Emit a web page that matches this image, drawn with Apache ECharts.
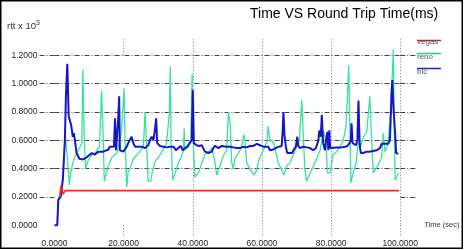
<!DOCTYPE html>
<html><head><meta charset="utf-8">
<script src="https://cdn.jsdelivr.net/npm/echarts@6/dist/echarts.min.js"></script>
<style>html,body{margin:0;padding:0;background:#fff}#c{width:464px;height:250px}</style>
</head><body><div id="c"></div>
<script>
const chartTitle = 'Time VS Round Trip Time(ms)';
const xAxisName = 'Time (sec)';
const seriesNames = ['vegas', 'reno', 'bic'];
const xTicks = [0, 20, 40, 60, 80, 100];
const yTicks = [0, 0.2, 0.4, 0.6, 0.8, 1.0, 1.2];

const vegasTime = [1.6, 1.9, 2.5, 3.1, 99.6];
const vegasRtt  = [0.20, 0.28, 0.22, 0.245, 0.245];

const bicTime = [0,0.8,1.1,1.8,2.4,3.0,3.3,3.7,4.1,4.5,4.8,5.3,5.6,6.0,6.4,7.2,8.3,9.3,10.8,11.7,12.7,14.1,15.6,16.0,17.2,17.5,17.8,18.4,18.7,18.9,19.9,20.9,21.3,22.3,22.8,23.3,25.2,26.2,27.1,27.6,28.1,28.6,29.1,29.4,29.7,30.5,32.4,33.4,34.4,35.1,35.8,36.5,37.1,37.7,38.4,39.0,39.7,39.8,40.0,40.3,41.1,41.9,42.6,43.0,43.5,44.5,45.5,45.9,46.4,47.4,48.4,49.8,50.8,51.7,52.7,53.6,54.6,55.6,56.5,57.5,58.5,59.4,60.4,61.8,62.3,63.3,64.3,65.7,66.0,66.2,66.5,66.9,67.3,68.7,69.1,69.8,70.2,70.5,71.0,71.9,72.9,73.9,74.8,75.6,76.3,76.6,77.0,77.3,77.6,77.7,78.2,78.5,78.9,79.2,79.5,79.7,80.2,81.6,83.0,84.0,84.7,85.3,85.7,85.9,86.2,87.2,87.6,87.9,88.1,88.3,88.6,89.3,90.3,91.2,92.2,93.2,94.1,94.6,95.6,96.5,97.0,97.2,97.5,97.7,98.0,98.5,98.8,99.4];
const bicRtt  = [0,0,0.18,0.20,0.32,0.60,0.91,1.14,0.77,0.76,0.71,0.625,0.65,0.58,0.51,0.47,0.465,0.48,0.51,0.50,0.52,0.52,0.535,0.555,0.555,0.755,0.53,0.74,0.91,0.53,0.52,0.555,0.58,0.625,0.58,0.555,0.555,0.545,0.565,0.60,0.625,0.60,0.685,0.755,0.58,0.56,0.55,0.555,0.555,0.53,0.545,0.56,0.53,0.545,0.555,0.58,0.60,0.755,0.955,0.58,0.565,0.56,0.565,0.545,0.52,0.51,0.52,0.545,0.56,0.545,0.56,0.555,0.555,0.55,0.545,0.545,0.555,0.55,0.56,0.56,0.575,0.565,0.555,0.555,0.53,0.535,0.55,0.56,0.67,0.80,0.64,0.555,0.51,0.51,0.53,0.555,0.625,0.56,0.545,0.555,0.55,0.545,0.53,0.545,0.60,0.67,0.625,0.78,0.78,0.58,0.53,0.60,0.66,0.53,0.67,0.545,0.555,0.55,0.55,0.555,0.56,0.58,0.60,0.72,0.58,0.565,0.60,0.88,0.695,0.555,0.51,0.51,0.52,0.52,0.525,0.53,0.545,0.575,0.575,0.575,0.60,0.74,0.955,1.025,0.84,0.65,0.51,0.505];

const renoTime = [0,0.8,1.1,2.4,3.0,3.3,4.3,4.7,5.3,5.9,6.9,7.9,8.2,8.6,9.0,9.8,10.8,11.7,13.0,13.6,14.1,14.4,15.3,16.6,18.0,18.9,19.4,20.1,20.4,20.9,21.3,22.0,22.8,24.7,25.7,26.2,26.7,27.1,27.8,28.4,29.1,30.5,32.4,33.2,33.5,33.7,34.2,34.9,35.8,36.8,37.3,37.5,37.7,38.2,38.7,39.4,39.8,40.1,40.6,41.6,42.6,43.5,44.5,45.5,45.9,46.4,46.9,47.9,48.8,49.8,50.3,50.8,51.2,51.7,52.2,53.2,54.1,54.6,54.9,55.6,56.5,57.6,58.3,59.4,60.4,61.4,61.8,62.3,63.4,64.6,66.3,67.2,68.1,69.1,70.0,70.8,71.5,72.0,72.4,72.9,73.9,75.3,76.8,77.3,77.7,78.5,78.9,79.7,80.2,80.6,81.6,82.6,83.5,84.3,84.7,85.1,85.5,85.7,86.4,87.2,87.9,88.4,89.3,90.3,91.2,91.7,92.2,93.2,94.6,95.1,95.6,96.1,96.5,97.2,98.0,98.3,98.5,99.0,99.4];
const renoRtt  = [0,0,0.18,0.32,0.58,0.60,0.285,0.37,0.44,0.485,0.53,0.58,1.10,0.60,0.40,0.46,0.495,0.51,0.555,0.95,0.60,0.31,0.40,0.48,0.51,0.60,0.67,0.967,0.60,0.27,0.38,0.41,0.47,0.52,0.555,0.80,0.53,0.31,0.31,0.39,0.45,0.495,0.58,0.79,1.12,0.60,0.32,0.37,0.44,0.49,0.53,0.685,0.53,0.53,0.555,0.58,1.07,0.60,0.34,0.37,0.44,0.50,0.52,0.545,0.555,0.45,0.355,0.42,0.49,0.53,0.80,0.72,0.45,0.40,0.47,0.51,0.55,0.62,0.64,0.44,0.40,0.355,0.38,0.48,0.53,0.59,0.70,0.60,0.58,0.45,0.355,0.42,0.44,0.50,0.555,0.60,0.885,0.60,0.40,0.31,0.37,0.44,0.53,0.60,0.67,0.60,0.37,0.37,0.38,0.50,0.52,0.555,0.60,0.70,0.90,1.13,0.60,0.30,0.37,0.44,0.60,0.55,0.62,0.66,0.91,0.60,0.37,0.41,0.48,0.65,0.52,0.55,0.60,0.80,1.24,0.60,0.32,0.34,0.37];

const zip = (a, b) => a.map((v, i) => [v, b[i]]);
const colors = { vegas: '#ff2424', reno: '#35e39b', bic: '#1616c8' };
const legendColors = { vegas: '#b03030', reno: '#22c8a0', bic: '#2222c0' };
const FONT = 'Liberation Sans, Arial, sans-serif';

const hDash = { type: [5, 2, 1, 2], color: '#444', width: 1 };
const vDash = { type: [1, 2], color: '#777', width: 1 };
const fmt = v => v.toFixed(4);

const chart = echarts.init(document.getElementById('c'), null, { renderer: 'canvas' });

const legendGraphics = [];
const legendLineY = [40.5, 53.5, 68.5];
const legendTextY = [43, 57.5, 72.5];
seriesNames.forEach((n, i) => {
  legendGraphics.push({ type: 'text', left: 417, top: legendTextY[i] - 5, z: 10,
    style: { text: n, font: '8px ' + FONT, fill: '#555' } });
  legendGraphics.push({ type: 'line', z: 11,
    shape: { x1: 417, y1: legendLineY[i], x2: 441, y2: legendLineY[i] },
    style: { stroke: legendColors[n], lineWidth: 1.5 } });
});

chart.setOption({
  animation: false,
  backgroundColor: '#fff',
  textStyle: { fontFamily: FONT },
  title: [
    { text: chartTitle, left: 250, top: 7, padding: 0,
      textStyle: { fontSize: 14, fontWeight: 'normal', color: '#000', fontFamily: FONT } },
    { text: 'rtt x 10{s|3}', left: 7, top: 20, padding: 0,
      textStyle: { fontSize: 9.5, fontWeight: 'normal', color: '#333', fontFamily: FONT,
        rich: { s: { fontSize: 7, color: '#333', padding: [0, 0, 6, 0] } } } }
  ],
  grid: { left: 54.5, right: 63.7, top: 55.3, bottom: 24.7, outerBoundsMode: 'none', containLabel: false },
  xAxis: [
    { type: 'value', min: xTicks[0], max: xTicks[xTicks.length - 1], interval: 20, position: 'bottom',
      axisLine: { show: false, onZero: false },
      axisTick: { show: true, customValues: xTicks.slice(1), length: 10, lineStyle: vDash },
      splitLine: { show: true, showMinLine: false, lineStyle: vDash },
      axisLabel: { formatter: fmt, margin: 14, fontSize: 8.5, color: '#222', fontFamily: FONT },
      name: xAxisName, nameLocation: 'end', nameGap: 24,
      nameTruncate: { maxWidth: null },
      nameTextStyle: { fontSize: 7.5, color: '#333', fontFamily: FONT, padding: [17, 0, 0, 0], overflow: 'none' } },
    { type: 'value', min: xTicks[0], max: xTicks[xTicks.length - 1], interval: 20, position: 'top',
      axisLine: { show: false, onZero: false }, axisLabel: { show: false }, splitLine: { show: false },
      axisTick: { show: true, customValues: xTicks.slice(1), length: 17, lineStyle: vDash } }
  ],
  yAxis: [
    { type: 'value', min: yTicks[0], max: yTicks[yTicks.length - 1], interval: 0.2, position: 'left',
      axisLine: { show: false, onZero: false },
      axisTick: { show: true, customValues: yTicks.slice(1), length: 15.5, lineStyle: hDash },
      splitLine: { show: true, showMinLine: false, lineStyle: hDash },
      axisLabel: { formatter: fmt, margin: 17, fontSize: 8.5, color: '#222', fontFamily: FONT } },
    { type: 'value', min: yTicks[0], max: yTicks[yTicks.length - 1], interval: 0.2, position: 'right',
      axisLine: { show: false, onZero: false }, axisLabel: { show: false }, splitLine: { show: false },
      axisTick: { show: true, customValues: yTicks.slice(1), length: 16.7, lineStyle: hDash } }
  ],
  series: [
    { name: seriesNames[1], type: 'line', data: zip(renoTime, renoRtt), symbol: 'none', clip: false,
      lineStyle: { color: colors.reno, width: 1.3 }, itemStyle: { color: colors.reno }, z: 2 },
    { name: seriesNames[2], type: 'line', data: zip(bicTime, bicRtt), symbol: 'none', clip: false,
      lineStyle: { color: colors.bic, width: 2 }, itemStyle: { color: colors.bic }, z: 3 },
    { name: seriesNames[0], type: 'line', data: zip(vegasTime, vegasRtt), symbol: 'none', clip: false,
      lineStyle: { color: colors.vegas, width: 1.6 }, itemStyle: { color: colors.vegas }, z: 4 }
  ],
  graphic: [
    { type: 'rect', shape: { x: 0.75, y: 0.75, width: 461.5, height: 247.5 },
      style: { fill: 'none', stroke: '#000', lineWidth: 1.5 }, z: 20 },
    ...legendGraphics
  ]
});
</script></body></html>
